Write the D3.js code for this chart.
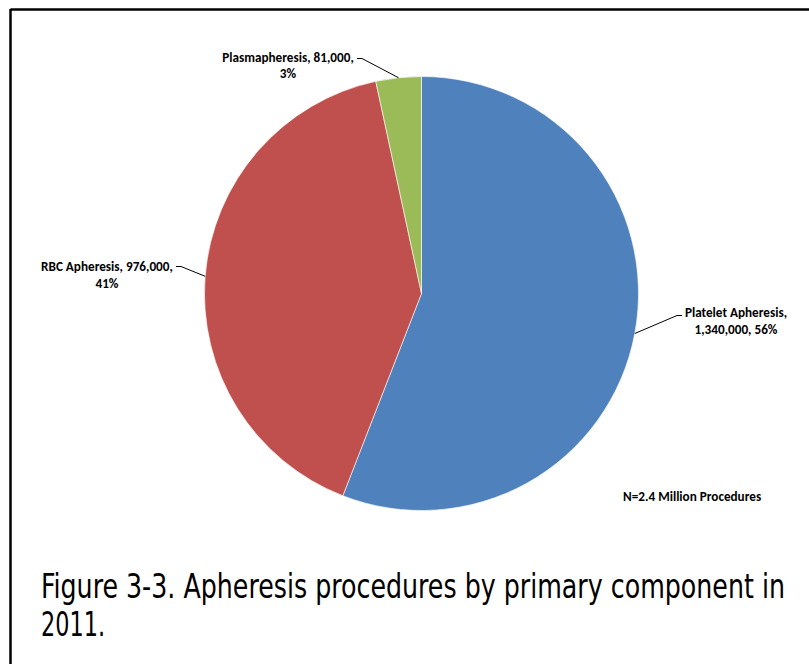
<!DOCTYPE html>
<html>
<head>
<meta charset="utf-8">
<script src="https://cdn.jsdelivr.net/npm/d3@7/dist/d3.min.js"></script>
<style>
html,body{margin:0;padding:0;background:#fff;}
svg{display:block;}
</style>
</head>
<body>
<svg id="chart" width="809" height="664"></svg>
<script>
const categories = ["Platelet Apheresis", "RBC Apheresis", "Plasmapheresis"];
const values = [1340000, 976000, 81000];
const percentLabels = ["56%", "41%", "3%"];
const colors = ["#4F81BD", "#C0504D", "#9BBB59"];
const labelLines = [
  ["Platelet Apheresis,", "1,340,000, 56%"],
  ["RBC Apheresis, 976,000,", "41%"],
  ["Plasmapheresis, 81,000,", "3%"]
];
const noteText = "N=2.4 Million Procedures";
const titleLines = ["Figure 3-3. Apheresis procedures by primary component in", "2011."];

const svg = d3.select("#chart");

// frame (top and left border)
svg.append("line").attr("x1", 10.5).attr("y1", 9.5).attr("x2", 809).attr("y2", 9.5)
  .attr("stroke", "#000").attr("stroke-width", 2.5);
svg.append("line").attr("x1", 10.5).attr("y1", 9).attr("x2", 10.5).attr("y2", 664)
  .attr("stroke", "#000").attr("stroke-width", 2.5);

const cx = 421.5, cy = 293.5, r = 217;
const data = categories.map((c, i) => ({cat: c, value: values[i], color: colors[i], lines: labelLines[i]}));

const pie = d3.pie().value(d => d.value).sort(null);
const arc = d3.arc().innerRadius(0).outerRadius(r);
const arcs = pie(data);

const g = svg.append("g").attr("transform", `translate(${cx},${cy})`);
g.selectAll("path.slice").data(arcs).enter().append("path")
  .attr("class", "slice")
  .attr("d", arc)
  .attr("fill", d => d.data.color)
  .attr("stroke", "#fff").attr("stroke-width", 0.6);

const labelFont = "Carlito, Lato, 'Liberation Sans', sans-serif";
const labelSize = 13.2;
const labelSpec = [
  {x: 736, y1: 317, y2: 334, lineEnd: [682, 315.5]},
  {x: 107, y1: 271, y2: 288, lineEnd: [176, 266.5]},
  {x: 288, y1: 62, y2: 78, lineEnd: [357, 58.5]}
];

arcs.forEach((a, i) => {
  const s = labelSpec[i];
  const mid = (a.startAngle + a.endAngle) / 2;
  const px = cx + Math.sin(mid) * r;
  const py = cy - Math.cos(mid) * r;
  const lx = s.lineEnd[0];
  const ly = s.lineEnd[1];
  const elbowX = i === 0 ? lx - 5 : lx + 5;
  svg.append("polyline")
    .attr("points", `${px},${py} ${elbowX},${ly} ${lx},${ly}`)
    .attr("fill", "none").attr("stroke", "#000").attr("stroke-width", 1);
  const t = svg.append("text")
    .attr("font-family", labelFont)
    .attr("font-weight", "bold")
    .attr("font-size", labelSize)
    .attr("fill", "#000")
    .attr("text-anchor", "middle");
  t.append("tspan").attr("x", s.x).attr("y", s.y1).text(a.data.lines[0]);
  t.append("tspan").attr("x", s.x).attr("y", s.y2).text(a.data.lines[1]);
});

svg.append("text")
  .attr("x", 623).attr("y", 501)
  .attr("font-family", labelFont)
  .attr("font-weight", "bold")
  .attr("font-size", labelSize)
  .text(noteText);

const titleFont = "'Liberation Sans Narrow', 'Arial Narrow', 'DejaVu Sans Condensed', sans-serif";
const titleBase = 24, titleScaleY = 33 / 24;
const t1 = svg.append("g").attr("transform", `translate(41,598) scale(1,${titleScaleY})`);
t1.append("text")
  .attr("x", 0).attr("y", 0)
  .attr("font-family", titleFont)
  .attr("font-size", titleBase)
  .attr("fill", "#000")
  .attr("textLength", 744).attr("lengthAdjust", "spacingAndGlyphs")
  .text(titleLines[0]);
const t2 = svg.append("g").attr("transform", `translate(41,636) scale(1,${titleScaleY})`);
t2.append("text")
  .attr("x", 0).attr("y", 0)
  .attr("font-family", titleFont)
  .attr("font-size", titleBase)
  .attr("fill", "#000")
  .attr("textLength", 64).attr("lengthAdjust", "spacingAndGlyphs")
  .text(titleLines[1]);
</script>
</body>
</html>
